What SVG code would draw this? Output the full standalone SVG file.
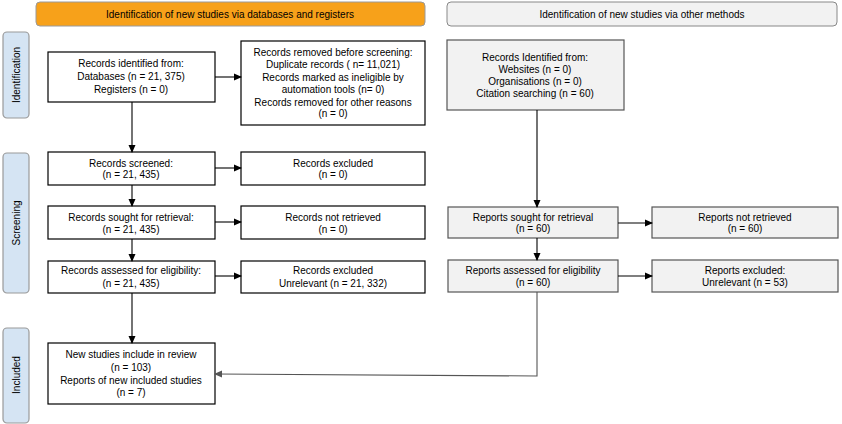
<svg xmlns="http://www.w3.org/2000/svg" width="842" height="424" viewBox="0 0 842 424">
<defs>
<marker id="ah" markerWidth="8" markerHeight="8" refX="7" refY="4" orient="auto" markerUnits="userSpaceOnUse"><path d="M0,0.5 L8,4 L0,7.5 Z" fill="#000"/></marker>
<marker id="ahg" markerWidth="8" markerHeight="8" refX="7" refY="4" orient="auto" markerUnits="userSpaceOnUse"><path d="M0,0.5 L8,4 L0,7.5 Z" fill="#555"/></marker>
<style>
text{font-family:"Liberation Sans",Arial,sans-serif;font-size:10px;fill:#000;text-anchor:middle}
.w{fill:#fff;stroke:#000;stroke-width:1.2}
.g{fill:#f2f2f2;stroke:#555;stroke-width:1.2}
.side{fill:#d5e4f3;stroke:#9a9a9a;stroke-width:1.2}
.c{stroke:#000;stroke-width:1.1;fill:none;marker-end:url(#ah)}
.cg{stroke:#555;stroke-width:1.1;fill:none;marker-end:url(#ahg)}
</style>
</defs>
<rect width="842" height="424" fill="#fff"/>
<g id="banner-left"><rect x="36" y="2" width="389" height="24" rx="4" fill="#f7a11a" stroke="#9a9a9a"/><text x="230" y="17.5">Identification of new studies via databases and registers</text></g>
<g id="banner-right"><rect x="447" y="2" width="390" height="24" rx="4" fill="#f2f2f2" stroke="#888"/><text x="642" y="17.5">Identification of new studies via other methods</text></g>
<g id="side-identification"><rect class="side" x="3" y="32" width="26" height="86" rx="4"/><text transform="translate(20,75) rotate(-90)">Identification</text></g>
<g id="side-screening"><rect class="side" x="3" y="153" width="26" height="140" rx="4"/><text transform="translate(20,223) rotate(-90)">Screening</text></g>
<g id="side-included"><rect class="side" x="3" y="328" width="26" height="95" rx="4"/><text transform="translate(20,375) rotate(-90)">Included</text></g>
<g id="records-identified"><rect class="w" x="48" y="52" width="167" height="50"/><text x="131" y="67">Records identified from:</text><text x="131" y="80">Databases (n = 21, 375)</text><text x="131" y="93">Registers (n = 0)</text></g>
<g id="records-removed"><rect class="w" x="241" y="41" width="184" height="84"/><text x="333" y="56">Records removed before screening:</text><text x="333" y="68">Duplicate records ( n= 11,021)</text><text x="333" y="81">Records marked as ineligible by</text><text x="333" y="93">automation tools (n= 0)</text><text x="333" y="106">Records removed for other reasons</text><text x="333" y="117">(n = 0)</text></g>
<g id="records-screened"><rect class="w" x="48" y="152" width="167" height="33"/><text x="131" y="167">Records screened:</text><text x="131" y="178">(n = 21, 435)</text></g>
<g id="records-excluded"><rect class="w" x="241" y="152" width="184" height="33"/><text x="333" y="167">Records excluded</text><text x="333" y="178">(n = 0)</text></g>
<g id="records-sought"><rect class="w" x="48" y="206" width="167" height="33"/><text x="131" y="221">Records sought for retrieval:</text><text x="131" y="233">(n = 21, 435)</text></g>
<g id="records-not-retrieved"><rect class="w" x="241" y="206" width="184" height="33"/><text x="333" y="221">Records not retrieved</text><text x="333" y="233">(n = 0)</text></g>
<g id="records-assessed"><rect class="w" x="48" y="261" width="167" height="32"/><text x="131" y="274">Records assessed for eligibility:</text><text x="131" y="287">(n = 21, 435)</text></g>
<g id="records-excluded-2"><rect class="w" x="241" y="261" width="184" height="32"/><text x="333" y="274">Records excluded</text><text x="333" y="287">Unrelevant (n = 21, 332)</text></g>
<g id="new-studies"><rect class="w" x="48" y="343" width="167" height="61"/><text x="131" y="358">New studies include in review</text><text x="131" y="371">(n = 103)</text><text x="131" y="384">Reports of new included studies</text><text x="131" y="396">(n = 7)</text></g>
<g id="other-identified"><rect class="g" x="447" y="40" width="177" height="70"/><text x="535" y="61">Records Identified from:</text><text x="535" y="73">Websites (n = 0)</text><text x="535" y="85">Organisations (n = 0)</text><text x="535" y="97">Citation searching (n = 60)</text></g>
<g id="reports-sought"><rect class="g" x="448" y="207" width="170" height="31"/><text x="533" y="221">Reports sought for retrieval</text><text x="533" y="232">(n = 60)</text></g>
<g id="reports-not-retrieved"><rect class="g" x="652" y="207" width="186" height="31"/><text x="745" y="221">Reports not retrieved</text><text x="745" y="232">(n = 60)</text></g>
<g id="reports-assessed"><rect class="g" x="448" y="260" width="170" height="32"/><text x="533" y="274">Reports assessed for eligibility</text><text x="533" y="286">(n = 60)</text></g>
<g id="reports-excluded"><rect class="g" x="652" y="260" width="186" height="32"/><text x="745" y="274">Reports excluded:</text><text x="745" y="286">Unrelevant (n = 53)</text></g>
<g id="connectors">
<line class="c" x1="132" y1="102" x2="132" y2="152"/>
<line class="c" x1="132" y1="185" x2="132" y2="206"/>
<line class="c" x1="132" y1="239" x2="132" y2="261"/>
<line class="c" x1="132" y1="293" x2="132" y2="343"/>
<line class="c" x1="215" y1="77" x2="241" y2="77"/>
<line class="c" x1="215" y1="168" x2="241" y2="168"/>
<line class="c" x1="215" y1="222" x2="241" y2="222"/>
<line class="c" x1="215" y1="276" x2="241" y2="276"/>
<line class="c" x1="537" y1="110" x2="537" y2="207"/>
<line class="c" x1="537" y1="238" x2="537" y2="260"/>
<line class="c" x1="618" y1="223" x2="652" y2="223"/>
<line class="c" x1="618" y1="276" x2="652" y2="276"/>
<polyline class="cg" points="537,292 537,376 215,374"/>
</g>
</svg>
